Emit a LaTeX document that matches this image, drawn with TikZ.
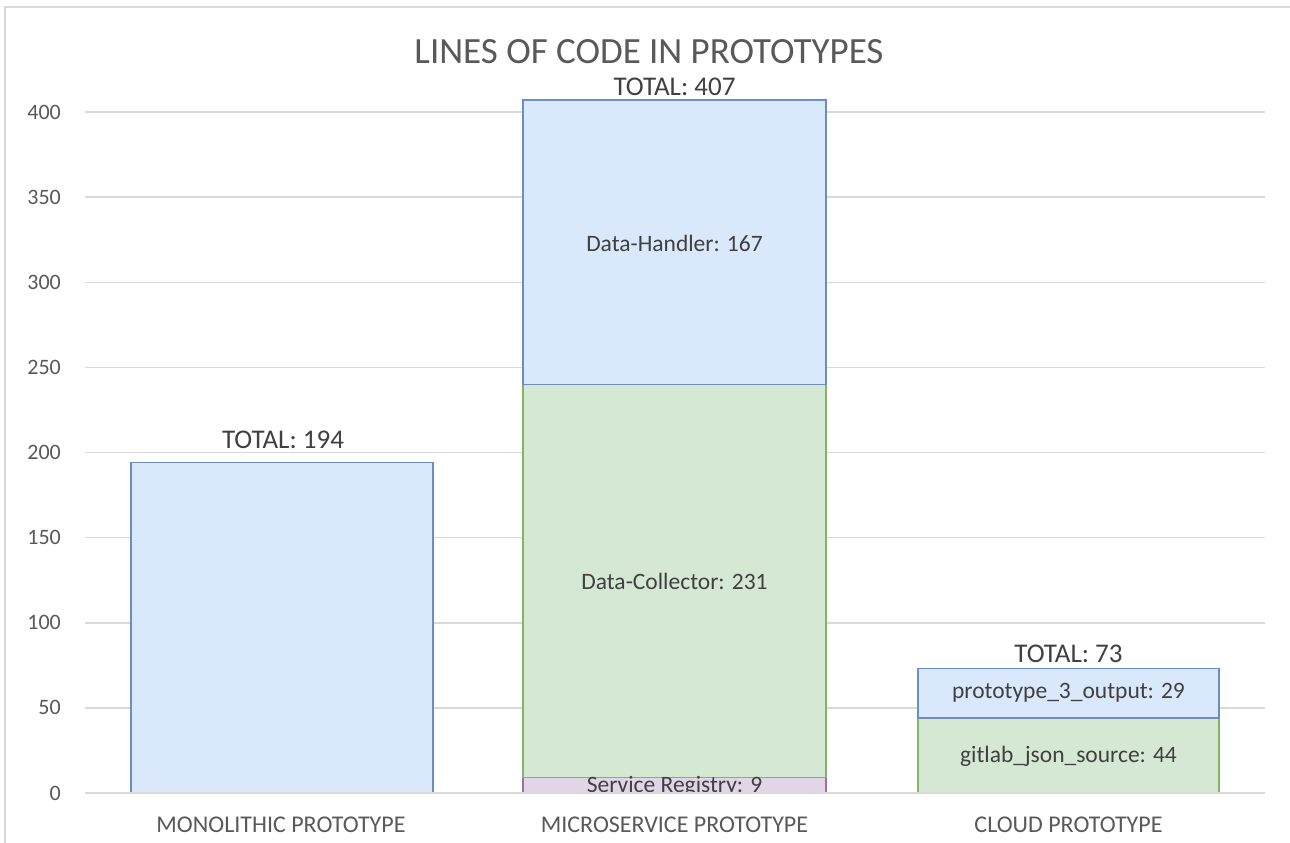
\documentclass[tikz,border=0pt]{standalone}
\usepackage{fontspec}
\setmainfont{Carlito}
\definecolor{grid}{HTML}{D9D9D9}
\definecolor{txt}{HTML}{595959}
\definecolor{dtxt}{HTML}{404040}
\definecolor{bfill}{HTML}{DAE8FC}
\definecolor{bdraw}{HTML}{6C8EBF}
\definecolor{gfill}{HTML}{D5E8D4}
\definecolor{gdraw}{HTML}{82B366}
\definecolor{pfill}{HTML}{E1D5E7}
\definecolor{pdraw}{HTML}{9673A6}
\tikzset{
  gridline/.style={draw=grid, line width=1.5pt},
  bluebar/.style={fill=bfill, draw=bdraw, line width=1.5pt},
  greenbar/.style={fill=gfill, draw=gdraw, line width=1.5pt},
  purplebar/.style={fill=pfill, draw=pdraw, line width=1.5pt},
  ticklab/.style={anchor=east, text=txt, font=\fontsize{22}{26}\selectfont, inner sep=0pt},
  catlab/.style={text=txt, font=\fontsize{24}{28}\selectfont, inner sep=0pt},
  datalab/.style={text=dtxt, font=\fontsize{23.5}{27}\selectfont, inner sep=0pt},
  totallab/.style={text=dtxt, font=\fontsize{27}{31}\selectfont, inner sep=0pt},
}
\begin{document}
\begin{tikzpicture}[x=1pt,y=-1pt]
\useasboundingbox (0,0) rectangle (1290,843);
\fill[white] (0,0) rectangle (1290,843);
% frame
\draw[draw=grid, line width=1.5pt] (5,843) -- (5,7) -- (1290,7);
% gridlines and ticks
\foreach \v in {0,50,...,400} {
  \pgfmathsetmacro{\yy}{793-1.7025*\v}
  \draw[gridline] (85,\yy) -- (1265,\yy);
  \node[ticklab] (t\v) at (61,\yy) {\v};
}
% title
\node[text=txt, font=\fontsize{37}{42}\selectfont, inner sep=0pt] (title) at (649,52) {LINES OF CODE IN PROTOTYPES};
% monolithic
\draw[bluebar] (131,793) rectangle (433,462.7);
\node[totallab] (tot1) at (283,440) {TOTAL: 194};
% microservice
\draw[purplebar] (523,793) rectangle (826,777.7);
\draw[greenbar] (523,777.7) rectangle (826,384.4);
\draw[bluebar] (523,384.4) rectangle (826,100.1);
\begin{scope}
\clip (523,700) rectangle (826,792);
\node[datalab] (sr) at (674.5,786) {Service Registry: 9};
\end{scope}
\node[datalab] (dc) at (674.5,581) {Data-Collector: 231};
\node[datalab] (dh) at (674.5,243) {Data-Handler: 167};
\node[totallab] (tot2) at (674.5,87) {TOTAL: 407};
% cloud
\draw[greenbar] (918,793) rectangle (1219,718.1);
\draw[bluebar] (918,718.1) rectangle (1219,668.7);
\node[datalab] (gj) at (1068.5,756) {gitlab\_json\_source: 44};
\node[datalab] (po) at (1068.5,693) {prototype\_3\_output: 29};
\node[totallab] (tot3) at (1068.5,654) {TOTAL: 73};
% axis line over bars
\draw[gridline] (85,793) -- (1265,793);
% categories
\node[catlab] (c1) at (281,825) {MONOLITHIC PROTOTYPE};
\node[catlab] (c2) at (674.5,825) {MICROSERVICE PROTOTYPE};
\node[catlab] (c3) at (1068.5,825) {CLOUD PROTOTYPE};
\end{tikzpicture}
\end{document}
